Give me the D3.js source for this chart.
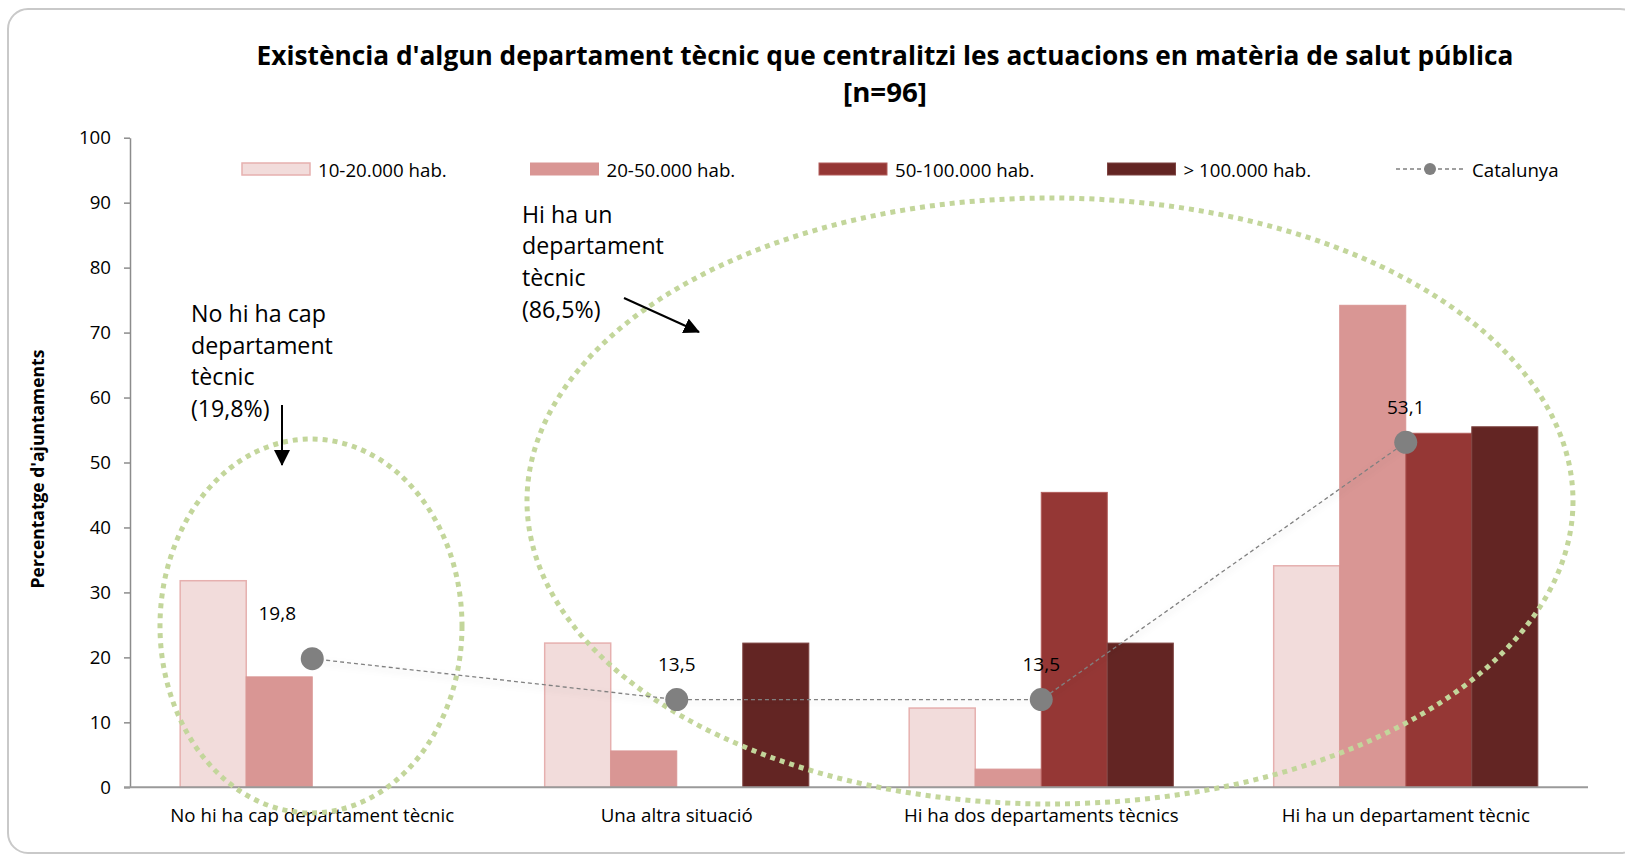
<!DOCTYPE html>
<html>

<head>
    <meta charset="utf-8">
    <script src="https://d3js.org/d3.v7.min.js"></script>
    <style>
        body { margin: 0; background: #fff; }
        text { font-family: "Open Sans", "Noto Sans", sans-serif; fill: #000; }
    </style>
    <script>
        // chart values
        const categories = ["No hi ha cap departament tècnic", "Una altra situació",
            "Hi ha dos departaments tècnics", "Hi ha un departament tècnic"];
        const seriesNames = ["10-20.000 hab.", "20-50.000 hab.", "50-100.000 hab.", "> 100.000 hab."];
        const hab10_20 = [31.8, 22.2, 12.2, 34.1];
        const hab20_50 = [17.0, 5.6, 2.8, 74.2];
        const hab50_100 = [0, 0, 45.4, 54.5];
        const habOver100 = [0, 22.2, 22.2, 55.5];
        const catalunya = [19.8, 13.5, 13.5, 53.1];
        const catalunyaName = "Catalunya";
        const yTicks = [0, 10, 20, 30, 40, 50, 60, 70, 80, 90, 100];
        const titleLines = ["Existència d'algun departament tècnic que centralitzi les actuacions en matèria de salut pública", "[n=96]"];
        const yTitle = "Percentatge d'ajuntaments";
        const noteNone = ["No hi ha cap", "departament", "tècnic", "(19,8%)"];
        const noteOne = ["Hi ha un", "departament", "tècnic", "(86,5%)"];

        let width = 1625;
        let height = 856;

        const fills = ["#f2dcdb", "#d99694", "#953735", "#632523"];
        const strokes = ["#e6b0af", "#d99694", "#b25d5b", "#7d4341"];

        function fmt(v) {
            return d3.format(".1f")(v).replace(".", ",");
        }

        function draw() {
            let svg = d3.select('body').append('svg')
                .attr('width', width)
                .attr('height', height);

            let defs = svg.append("defs");
            defs.append("filter").attr("id", "shadow")
                .attr("x", "-10%").attr("y", "-50%").attr("width", "120%").attr("height", "200%")
                .append("feDropShadow")
                .attr("dx", 0).attr("dy", 3).attr("stdDeviation", 3)
                .attr("flood-color", "#000").attr("flood-opacity", 0.18);
            defs.append("marker").attr("id", "arrow")
                .attr("markerUnits", "userSpaceOnUse")
                .attr("markerWidth", 16).attr("markerHeight", 16)
                .attr("refX", 15).attr("refY", 8)
                .attr("orient", "auto")
                .append("path").attr("d", "M0,0 L16,8 L0,16 Z").attr("fill", "#000");

            // frame
            svg.append("rect")
                .attr("x", 8).attr("y", 9)
                .attr("width", 1632).attr("height", 844)
                .attr("rx", 20)
                .attr("fill", "none")
                .attr("stroke", "#c9c9c9")
                .attr("stroke-width", 2);

            // title
            svg.append("text")
                .attr("x", 885).attr("y", 65)
                .attr("text-anchor", "middle")
                .attr("textLength", 1257)
                .attr("lengthAdjust", "spacingAndGlyphs")
                .style("font-size", "27px").style("font-weight", "bold")
                .text(titleLines[0]);
            svg.append("text")
                .attr("x", 885).attr("y", 102)
                .attr("text-anchor", "middle")
                .attr("textLength", 84)
                .attr("lengthAdjust", "spacingAndGlyphs")
                .style("font-size", "27px").style("font-weight", "bold")
                .text(titleLines[1]);

            let x0 = d3.scaleBand()
                .domain(categories)
                .range([130, 1588]);
            let x1 = d3.scaleBand()
                .domain(seriesNames)
                .range([0, x0.bandwidth()])
                .paddingOuter(0.76);
            let y = d3.scaleLinear()
                .domain([0, 100])
                .range([787.3, 137.7]);

            // y axis
            let yAxis = svg.append("g")
                .attr("transform", "translate(130,0)")
                .call(d3.axisLeft(y).tickValues(yTicks).tickSize(6).tickPadding(13).tickSizeOuter(0));
            yAxis.select(".domain").attr("stroke", "#8c8c8c").attr("stroke-width", 1.5);
            yAxis.selectAll(".tick line").attr("stroke", "#8c8c8c").attr("stroke-width", 1.5);
            yAxis.selectAll(".tick text").style("font-size", "18.7px").attr("fill", "#000")
                .style("font-family", "'Open Sans', sans-serif");

            svg.append("text")
                .attr("transform", "translate(37,469) rotate(-90)")
                .attr("text-anchor", "middle")
                .attr("dominant-baseline", "central")
                .style("font-size", "17.5px").style("font-weight", "bold")
                .text(yTitle);

            // bars
            let seriesValues = [hab10_20, hab20_50, hab50_100, habOver100];
            let rows = [];
            seriesValues.forEach((vals, s) => {
                vals.forEach((v, c) => {
                    rows.push({ s: s, c: c, v: v });
                });
            });
            svg.append("g").selectAll("rect")
                .data(rows.filter(d => d.v > 0))
                .join("rect")
                .attr("x", d => x0(categories[d.c]) + x1(seriesNames[d.s]))
                .attr("width", x1.bandwidth())
                .attr("y", d => y(d.v))
                .attr("height", d => y(0) - y(d.v))
                .attr("fill", d => fills[d.s])
                .attr("stroke", d => strokes[d.s])
                .attr("stroke-width", d => d.s == 0 ? 1.5 : 1);

            // x axis
            let xAxis = svg.append("g")
                .attr("transform", "translate(0," + y(0) + ")")
                .call(d3.axisBottom(x0).tickSize(0).tickPadding(21).tickSizeOuter(0));
            xAxis.select(".domain").remove();
            svg.append("line")
                .attr("x1", 124).attr("x2", 1588)
                .attr("y1", y(0)).attr("y2", y(0))
                .attr("stroke", "#9a9a9a").attr("stroke-width", 2);
            xAxis.selectAll(".tick text").style("font-size", "18.7px").attr("fill", "#000")
                .style("font-family", "'Open Sans', sans-serif");

            // ellipses
            svg.append("ellipse")
                .attr("cx", 311).attr("cy", 626).attr("rx", 151).attr("ry", 187)
                .attr("fill", "none").attr("stroke", "#c3d69b")
                .attr("stroke-width", 5).attr("stroke-dasharray", "5 5");
            svg.append("ellipse")
                .attr("cx", 1050).attr("cy", 501).attr("rx", 523).attr("ry", 303)
                .attr("fill", "none").attr("stroke", "#c3d69b")
                .attr("stroke-width", 5).attr("stroke-dasharray", "5 5");

            // Catalunya line
            let cx = d => x0(d) + x0.bandwidth() / 2;
            let line = d3.line()
                .x((d, i) => cx(categories[i]))
                .y(d => y(d));
            svg.append("path")
                .datum(catalunya)
                .attr("d", line)
                .attr("fill", "none")
                .attr("stroke", "#808080")
                .attr("stroke-width", 1.3)
                .attr("stroke-dasharray", "4 3")
                .attr("filter", "url(#shadow)");
            svg.append("g").selectAll("circle")
                .data(catalunya)
                .join("circle")
                .attr("cx", (d, i) => cx(categories[i]))
                .attr("cy", d => y(d))
                .attr("r", 11.5)
                .attr("fill", "#808080");
            svg.append("g").selectAll("text")
                .data(catalunya)
                .join("text")
                .attr("x", (d, i) => cx(categories[i]) - (i == 0 ? 35 : 0))
                .attr("y", (d, i) => y(d) - (i == 0 ? 39 : 28.5))
                .attr("text-anchor", "middle")
                .style("font-size", "19px")
                .text(d => fmt(d));

            // legend
            let legendX = d3.scalePoint()
                .domain(d3.range(5))
                .range([242, 1396]);
            let legend = svg.append("g");
            seriesNames.forEach((name, i) => {
                legend.append("rect")
                    .attr("x", legendX(i)).attr("y", 163)
                    .attr("width", 68).attr("height", 12)
                    .attr("fill", fills[i])
                    .attr("stroke", strokes[i])
                    .attr("stroke-width", i == 0 ? 1.5 : 1);
                legend.append("text")
                    .attr("x", legendX(i) + 76).attr("y", 169)
                    .attr("dominant-baseline", "central")
                    .style("font-size", "18.7px")
                    .text(name);
            });
            legend.append("line")
                .attr("x1", legendX(4)).attr("x2", legendX(4) + 68)
                .attr("y1", 169).attr("y2", 169)
                .attr("stroke", "#808080").attr("stroke-width", 1.3)
                .attr("stroke-dasharray", "4 3");
            legend.append("circle")
                .attr("cx", legendX(4) + 34).attr("cy", 169).attr("r", 6)
                .attr("fill", "#808080");
            legend.append("text")
                .attr("x", legendX(4) + 76).attr("y", 169)
                .attr("dominant-baseline", "central")
                .style("font-size", "18.7px")
                .text(catalunyaName);

            // annotations
            svg.append("text")
                .attr("x", 191).attr("y", 322)
                .style("font-size", "23.2px")
                .selectAll("tspan")
                .data(noteNone)
                .join("tspan")
                .attr("x", 191)
                .attr("dy", (d, i) => i == 0 ? 0 : 31.5)
                .text(d => d);
            svg.append("text")
                .attr("x", 522).attr("y", 222.5)
                .style("font-size", "23.2px")
                .selectAll("tspan")
                .data(noteOne)
                .join("tspan")
                .attr("x", 522)
                .attr("dy", (d, i) => i == 0 ? 0 : 31.7)
                .text(d => d);

            svg.append("line")
                .attr("x1", 282).attr("y1", 405)
                .attr("x2", 282).attr("y2", 465)
                .attr("stroke", "#000").attr("stroke-width", 2)
                .attr("marker-end", "url(#arrow)");
            svg.append("line")
                .attr("x1", 624).attr("y1", 298)
                .attr("x2", 699).attr("y2", 332)
                .attr("stroke", "#000").attr("stroke-width", 2)
                .attr("marker-end", "url(#arrow)");
        }
    </script>
</head>

<body>
    <script>
        draw();
    </script>
</body>

</html>
